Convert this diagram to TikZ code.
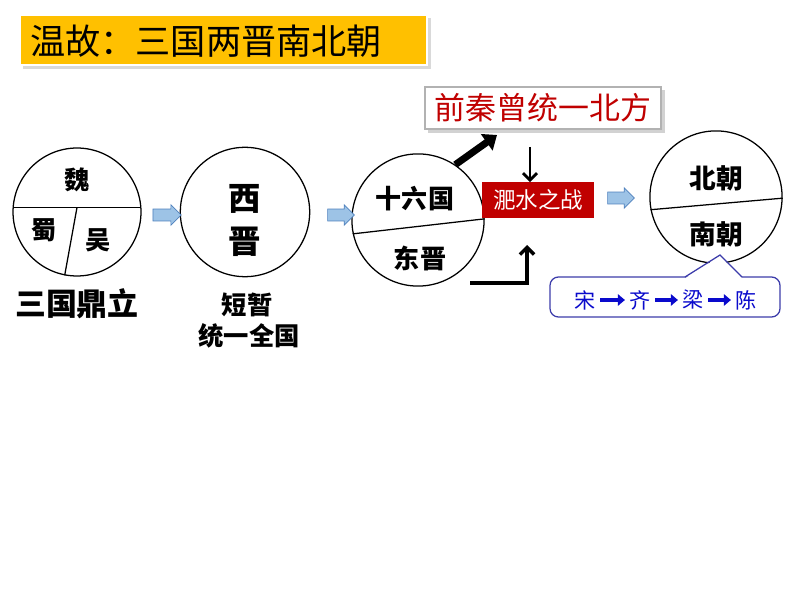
\documentclass[tikz,border=0pt]{standalone}
\usepackage{fontspec}
\setmainfont{Noto Sans CJK SC}
\usetikzlibrary{shapes.arrows,arrows.meta,calc}
\definecolor{titleyellow}{HTML}{FFC000}
\definecolor{darkred}{HTML}{C00000}
\definecolor{arrowblue}{HTML}{9DC3E6}
\definecolor{arrowedge}{HTML}{4F81BD}
\definecolor{dynblue}{HTML}{0A0ACC}
\definecolor{calloutedge}{HTML}{3C3CAA}
\tikzset{
  ring/.style={circle, draw, line width=0.9pt, minimum size=#1, inner sep=0pt},
  lbl/.style={font=\fontsize{#1}{#1}\selectfont\bfseries, inner sep=1pt},
  blockarrow/.style={single arrow, draw=arrowedge, fill=arrowblue, line width=0.5pt,
    minimum height=#1, inner xsep=0pt, inner ysep=4pt, single arrow head extend=3pt},
  thickarrow/.style={line width=5pt, -{Triangle[length=9pt,width=14pt]}},
  barbarrow/.style={line width=2pt, -{Straight Barb[length=5pt,width=10pt]}},
  dynarrow/.style={dynblue, line width=2.2pt, -{Triangle[length=5pt,width=8pt]},
    shorten <=2pt, shorten >=2pt},
  dyn/.style={text=dynblue, font=\fontsize{15pt}{15pt}\selectfont, inner sep=1pt},
}
\begin{document}
\begin{tikzpicture}[x=0.025cm, y=-0.025cm]
\useasboundingbox (0,0) rectangle (794,596);

% title
\fill[gray!30] (23,18) rectangle (431,69);
\draw[fill=titleyellow, draw=white, line width=1.5pt] (20,15) rectangle (427,65);
\node[anchor=west, font=\fontsize{25pt}{25pt}\selectfont, inner sep=0pt] (title) at (30,41) {温故：三国两晋南北朝};

% circles
\node[ring=91pt] (sanguo) at (77,212) {};
\draw[line width=0.9pt] (sanguo.176) -- (sanguo.4);
\draw[line width=0.9pt] ($(sanguo.176)!0.5!(sanguo.4)$) -- (sanguo.259);
\node[lbl=18pt] (wei) at (77,180) {魏};
\node[lbl=18pt] (shu) at (44,230) {蜀};
\node[lbl=18pt] (wu) at (98,240) {吴};
\node[lbl=22pt] (dingli) at (77,304) {三国鼎立};

\node[ring=92pt] (xijin) at (245,212) {};
\node[lbl=23pt] (xi) at (245,199) {西};
\node[lbl=23pt] (jin) at (245,242) {晋};
\node[lbl=18pt] (duanzan) at (247,305) {短暂};
\node[lbl=18pt] (tongyi) at (249,336) {统一全国};

\node[ring=94pt] (dong) at (418,220) {};
\draw[line width=0.9pt] (dong.192) -- (dong.1);
\node[lbl=18.5pt] (shiliu) at (415,199) {十六国};
\node[lbl=18.5pt] (dongjin) at (420,258) {东晋};

\node[ring=94pt] (nanbei) at (716,197) {};
\draw[line width=0.9pt] (nanbei.191) -- (nanbei.359);
\node[lbl=19pt] (beichao) at (716,178) {北朝};
\node[lbl=19pt] (nanchao) at (716,234) {南朝};

% boxes
\fill[gray!35] (428,90) rectangle (665,133);
\node[draw=gray!60, line width=1.5pt, fill=white, minimum width=168pt, minimum height=30pt,
  text=darkred, font=\fontsize{22pt}{22pt}\selectfont] (qianqin) at (543,108) {前秦曾统一北方};
\node[fill=darkred, minimum width=80pt, minimum height=25pt, text=white,
  font=\fontsize{16pt}{16pt}\selectfont] (feishui) at (538,200) {淝水之战};

% blue arrows
\node[blockarrow=20pt] (a1) at (164,215) {};
\node[blockarrow=19pt] (a2) at (338,215) {};
\node[blockarrow=19pt] (a3) at (618,198) {};

% black arrows
\coordinate (atip) at (497,135);
\draw[thickarrow] (dong.56) -- (atip);
\coordinate (dtop) at (530,147);
\draw[barbarrow] (dtop) -- (feishui.north -| dtop);
\coordinate (ubeg) at (470,283);
\coordinate (utip) at (527,245);
\draw[barbarrow, line width=2.5pt] (ubeg) -| (utip);

% callout
\draw[calloutedge, fill=white, line width=0.9pt, rounded corners=6pt] (550,277) rectangle (780,317);
\fill[white] (684,279) -- (720,256) -- (743,279) -- cycle;
\draw[calloutedge, line width=0.9pt] (685,277) -- (720,255) -- (742,277);
\node[dyn] (song) at (585,300) {宋};
\node[dyn] (qi) at (640,300) {齐};
\node[dyn] (liang) at (693,300) {梁};
\node[dyn] (chen) at (746,300) {陈};
\draw[dynarrow] (song) -- (qi);
\draw[dynarrow] (qi) -- (liang);
\draw[dynarrow] (liang) -- (chen);
\end{tikzpicture}
\end{document}
